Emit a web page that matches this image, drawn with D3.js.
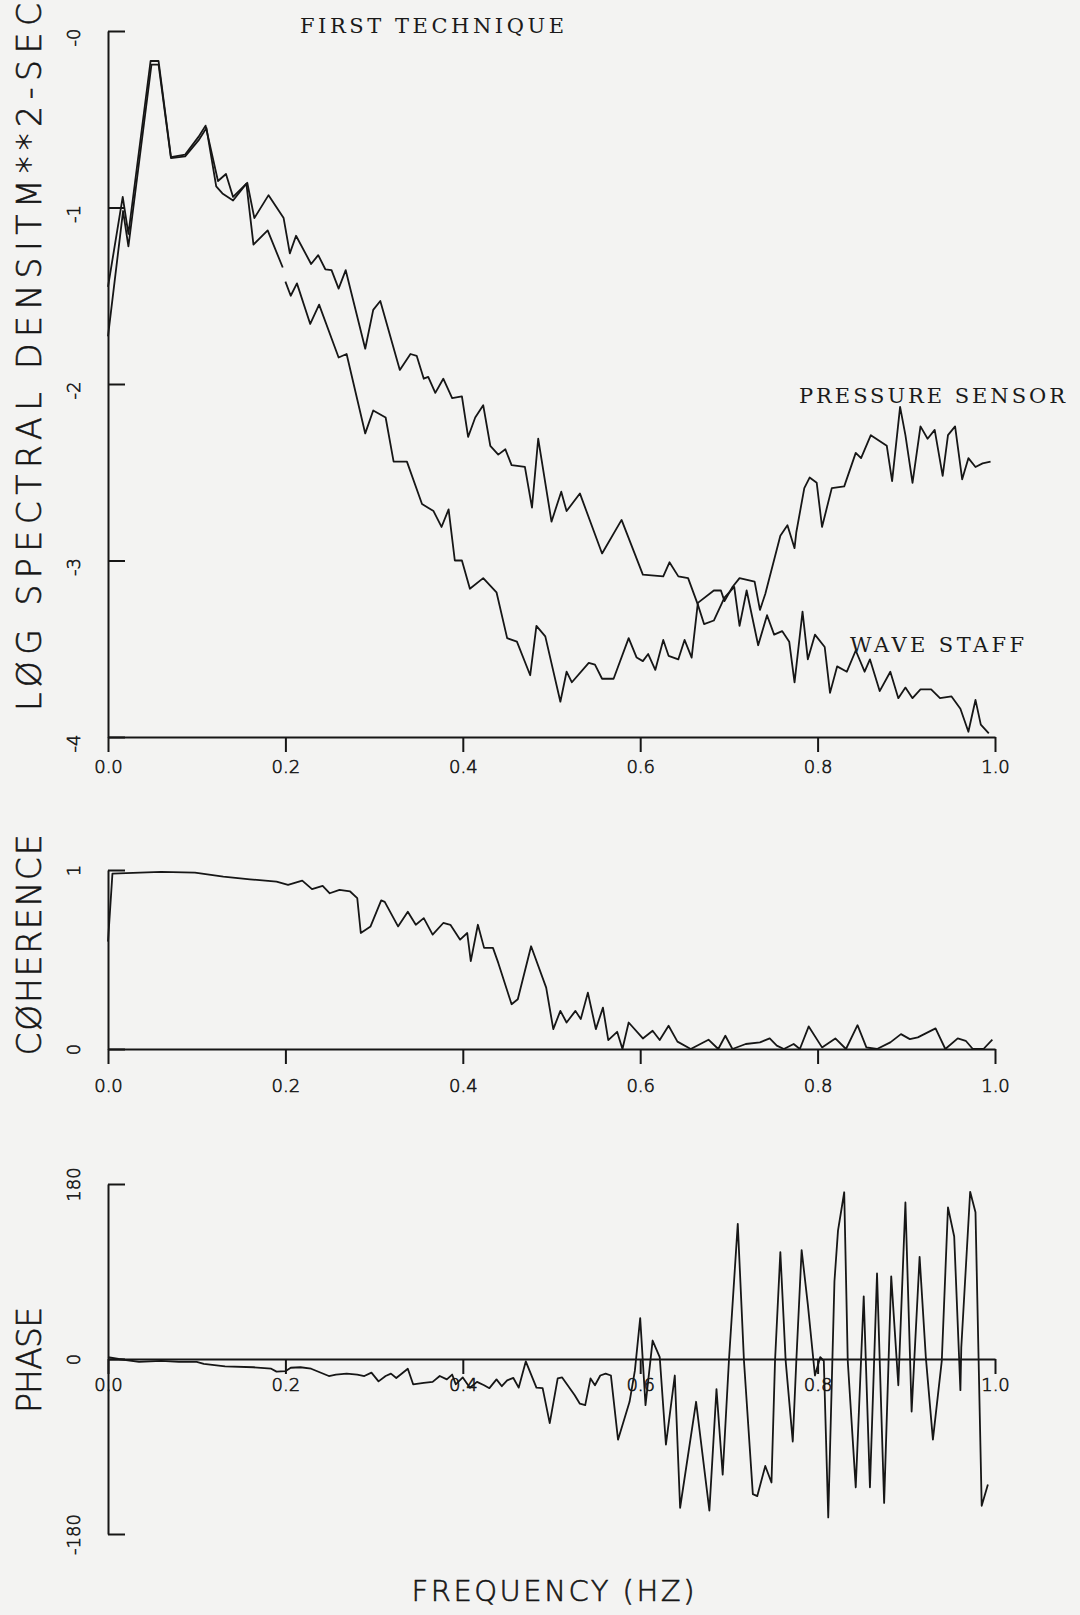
<!DOCTYPE html>
<html>
<head>
<meta charset="utf-8">
<script src="https://cdn.jsdelivr.net/npm/d3@7"></script>
<style>
  body { margin: 0; background: #f3f3f2; }
  svg { display: block; }
  .plotter { font-family: "DejaVu Sans", sans-serif; font-weight: 200; fill: #161616; stroke: #161616; stroke-width: 0.6; }
  .typed { font-family: "DejaVu Serif", serif; fill: #1a1a1a; }
  .axis path, .axis line { stroke: #161616; stroke-width: 2; }
  .curve { fill: none; stroke: #161616; stroke-width: 1.8; stroke-linejoin: round; }
</style>
</head>
<body>
<script>
//frequency ticks shared by the three panels
let freqTicks = [0, 0.2, 0.4, 0.6, 0.8, 1.0];
let freqTickLabels = ["0.0", "0.2", "0.4", "0.6", "0.8", "1.0"];
let logTicks = [0, -1, -2, -3, -4];
let logTickLabels = ["-0", "-1", "-2", "-3", "-4"];
let cohTicks = [1, 0];
let cohTickLabels = ["1", "0"];
let phaseTicks = [180, 0, -180];
let phaseTickLabels = ["180", "0", "-180"];

//[frequency Hz, log spectral density]; null = pen lift
let pressureSensor = [
  [0, -1.73], [0.017, -1.02], [0.023, -1.22], [0.049, -0.19], [0.057, -0.19], [0.071, -0.72],
  [0.087, -0.71], [0.102, -0.62], [0.111, -0.55], [0.122, -0.88], [0.129, -0.92], [0.141, -0.96],
  [0.156, -0.865], [0.164, -1.21], [0.180, -1.13], [0.197, -1.34], [0.1985, null], [0.200, -1.42],
  [0.206, -1.50], [0.213, -1.43], [0.228, -1.66], [0.238, -1.55], [0.260, -1.85], [0.269, -1.83],
  [0.290, -2.28], [0.299, -2.15], [0.313, -2.19], [0.322, -2.44], [0.337, -2.44], [0.354, -2.68],
  [0.367, -2.72], [0.376, -2.81], [0.384, -2.71], [0.391, -3.00], [0.399, -3.00], [0.408, -3.16],
  [0.423, -3.10], [0.438, -3.18], [0.450, -3.44], [0.461, -3.46], [0.476, -3.65], [0.483, -3.37],
  [0.493, -3.43], [0.510, -3.80], [0.517, -3.63], [0.523, -3.69], [0.542, -3.58], [0.549, -3.59],
  [0.557, -3.67], [0.570, -3.67], [0.587, -3.44], [0.596, -3.55], [0.603, -3.57], [0.609, -3.53],
  [0.617, -3.62], [0.626, -3.45], [0.632, -3.54], [0.643, -3.56], [0.650, -3.45], [0.658, -3.55],
  [0.665, -3.24], [0.683, -3.17], [0.691, -3.17], [0.695, -3.23], [0.704, -3.15], [0.712, -3.10],
  [0.729, -3.12], [0.735, -3.28], [0.741, -3.19], [0.758, -2.86], [0.766, -2.80], [0.774, -2.93],
  [0.776, -2.84], [0.785, -2.59], [0.791, -2.53], [0.799, -2.56], [0.805, -2.81], [0.816, -2.59],
  [0.830, -2.58], [0.843, -2.39], [0.849, -2.42], [0.860, -2.29], [0.878, -2.35], [0.884, -2.55],
  [0.893, -2.13], [0.899, -2.29], [0.907, -2.56], [0.916, -2.24], [0.924, -2.31], [0.932, -2.26],
  [0.941, -2.52], [0.947, -2.29], [0.955, -2.24], [0.963, -2.54], [0.970, -2.42], [0.978, -2.47],
  [0.986, -2.45], [0.995, -2.44]
];

let waveStaff = [
  [0, -1.45], [0.0166, -0.94], [0.023, -1.15], [0.048, -0.17], [0.057, -0.17], [0.071, -0.715],
  [0.087, -0.70], [0.102, -0.60], [0.110, -0.536], [0.124, -0.85], [0.133, -0.81], [0.141, -0.94],
  [0.157, -0.86], [0.165, -1.06], [0.181, -0.93], [0.198, -1.06], [0.205, -1.26], [0.212, -1.16],
  [0.229, -1.32], [0.237, -1.27], [0.245, -1.35], [0.252, -1.355], [0.260, -1.46], [0.268, -1.355],
  [0.290, -1.80], [0.299, -1.58], [0.307, -1.53], [0.329, -1.92], [0.341, -1.83], [0.348, -1.84],
  [0.356, -1.97], [0.361, -1.96], [0.369, -2.05], [0.378, -1.97], [0.388, -2.08], [0.399, -2.07],
  [0.406, -2.30], [0.414, -2.19], [0.423, -2.12], [0.431, -2.35], [0.440, -2.40], [0.448, -2.37],
  [0.455, -2.46], [0.470, -2.47], [0.478, -2.70], [0.485, -2.31], [0.500, -2.78], [0.511, -2.61],
  [0.517, -2.72], [0.532, -2.62], [0.557, -2.96], [0.579, -2.77], [0.603, -3.08], [0.626, -3.09],
  [0.633, -3.01], [0.643, -3.09], [0.654, -3.10], [0.665, -3.25], [0.672, -3.36], [0.683, -3.34],
  [0.695, -3.21], [0.706, -3.15], [0.712, -3.37], [0.720, -3.17], [0.733, -3.48], [0.743, -3.31],
  [0.751, -3.42], [0.760, -3.40], [0.768, -3.46], [0.774, -3.69], [0.783, -3.29], [0.789, -3.56],
  [0.797, -3.42], [0.808, -3.49], [0.814, -3.75], [0.822, -3.60], [0.833, -3.63], [0.843, -3.51],
  [0.853, -3.63], [0.859, -3.56], [0.870, -3.74], [0.882, -3.63], [0.891, -3.78], [0.899, -3.72],
  [0.907, -3.78], [0.916, -3.73], [0.928, -3.73], [0.938, -3.78], [0.951, -3.77], [0.961, -3.84],
  [0.970, -3.97], [0.978, -3.79], [0.984, -3.93], [0.993, -3.98]
];

//[frequency Hz, coherence]
let coherence = [
  [0, 0.60], [0.005, 0.98], [0.036, 0.985], [0.06, 0.99], [0.098, 0.985], [0.13, 0.963],
  [0.16, 0.948], [0.19, 0.935], [0.203, 0.917], [0.219, 0.941], [0.23, 0.893], [0.242, 0.911],
  [0.25, 0.87], [0.261, 0.889], [0.273, 0.88], [0.281, 0.843], [0.285, 0.648], [0.296, 0.685],
  [0.308, 0.83], [0.312, 0.822], [0.327, 0.685], [0.338, 0.767], [0.347, 0.694], [0.356, 0.731],
  [0.366, 0.639], [0.378, 0.704], [0.386, 0.694], [0.397, 0.611], [0.405, 0.648], [0.409, 0.491],
  [0.417, 0.694], [0.424, 0.565], [0.434, 0.565], [0.44, 0.481], [0.455, 0.25], [0.462, 0.278],
  [0.477, 0.574], [0.494, 0.343], [0.502, 0.111], [0.51, 0.213], [0.517, 0.148], [0.527, 0.213],
  [0.533, 0.167], [0.541, 0.315], [0.55, 0.111], [0.558, 0.231], [0.564, 0.05], [0.574, 0.096],
  [0.58, 0.0], [0.587, 0.148], [0.603, 0.059], [0.614, 0.102], [0.622, 0.05], [0.632, 0.13],
  [0.642, 0.041], [0.657, 0.0], [0.677, 0.052], [0.688, 0.0], [0.696, 0.074], [0.704, 0.0],
  [0.719, 0.028], [0.735, 0.037], [0.746, 0.059], [0.754, 0.019], [0.762, 0.0], [0.773, 0.028],
  [0.78, 0.0], [0.79, 0.126], [0.805, 0.009], [0.82, 0.059], [0.832, 0.0], [0.845, 0.133],
  [0.855, 0.009], [0.867, 0.0], [0.882, 0.037], [0.894, 0.083], [0.904, 0.055], [0.913, 0.065],
  [0.933, 0.115], [0.944, 0.0], [0.958, 0.059], [0.967, 0.046], [0.975, 0.0], [0.987, 0.0],
  [0.997, 0.052]
];

//[frequency Hz, phase deg]
let phase = [
  [0, 2], [0.012, 0], [0.035, -3], [0.06, -2], [0.08, -3], [0.1, -3], [0.108, -5], [0.132, -7.5],
  [0.164, -8.5], [0.184, -10], [0.19, -13], [0.2, -12.5], [0.206, -9], [0.217, -8.5], [0.229, -10],
  [0.249, -17.5], [0.257, -16], [0.269, -15], [0.281, -16], [0.289, -17.5], [0.297, -14],
  [0.305, -23], [0.313, -17.5], [0.319, -15], [0.325, -19.5], [0.338, -10], [0.344, -26],
  [0.356, -24.5], [0.366, -23.5], [0.374, -17.5], [0.382, -21], [0.388, -16], [0.392, -26],
  [0.4, -19], [0.408, -29.5], [0.416, -23.5], [0.424, -27], [0.43, -30], [0.438, -21], [0.444, -28],
  [0.45, -22], [0.457, -19.5], [0.463, -29.5], [0.471, -2.5], [0.483, -29.5], [0.49, -30],
  [0.498, -66], [0.507, -20], [0.512, -19], [0.526, -37], [0.532, -46], [0.538, -47.5],
  [0.544, -20], [0.549, -27], [0.555, -17], [0.561, -15], [0.567, -17], [0.575, -83], [0.588, -44],
  [0.594, -12], [0.600, 42], [0.606, -47.5], [0.614, 19], [0.622, 2], [0.629, -88], [0.639, -17],
  [0.645, -153], [0.663, -44], [0.678, -156], [0.686, -31], [0.693, -119], [0.700, -2], [0.710, 139],
  [0.717, -2], [0.727, -139], [0.732, -141], [0.741, -110], [0.748, -127], [0.752, -2], [0.758, 110],
  [0.764, -2], [0.772, -85], [0.776, -2], [0.782, 112], [0.789, 56], [0.797, -17], [0.803, 2],
  [0.807, -2], [0.812, -163], [0.819, 80], [0.823, 132], [0.830, 171.5], [0.834, -2], [0.843, -132],
  [0.852, 64.5], [0.859, -132], [0.867, 88], [0.875, -148], [0.883, 85], [0.891, -27], [0.899, 161],
  [0.906, -54], [0.915, 105], [0.922, 2], [0.930, -83], [0.940, -2], [0.947, 156], [0.954, 126],
  [0.961, -32], [0.962, 12], [0.972, 172], [0.978, 151], [0.985, -151], [0.992, -129]
];

//page size
let width = 1080;
let height = 1615;

const svg = d3.select("body").
  append("svg").
  attr("width", width).
  attr("height", height);

//shared frequency scale
let xScale = d3.scaleLinear().domain([0, 1]).range([108, 995]);

//panel scales
let yLog = d3.scaleLinear().domain([-4, 0]).range([737, 31]);
let yCoh = d3.scaleLinear().domain([0, 1]).range([1049, 870]);
let yPhase = d3.scaleLinear().domain([-180, 180]).range([1534, 1184]);

//draw x axis with labels set a given distance under the line
function drawXAxis(yPos, labelTop) {
  let xAxis = d3.axisBottom(xScale).
    tickValues(freqTicks).
    tickSizeInner(15).
    tickSizeOuter(0).
    tickFormat((d, i) => freqTickLabels[i]);
  let g = svg.append("g").
    attr("class", "axis").
    attr("transform", "translate(0," + yPos + ")").
    call(xAxis);
  g.selectAll("text").
    attr("class", "plotter").
    attr("y", labelTop).
    attr("dy", "0.73em").
    style("font-size", "18px");
}

//draw y axis, ticks pointing into the plot, labels rotated
function drawYAxis(scale, ticks, labels, anchor, shift) {
  let yAxis = d3.axisLeft(scale).
    tickValues(ticks).
    tickSizeInner(-17).
    tickSizeOuter(0).
    tickFormat((d, i) => labels[i]);
  let g = svg.append("g").
    attr("class", "axis").
    attr("transform", "translate(" + xScale(0) + ",0)").
    call(yAxis);
  g.selectAll("text").
    attr("class", "plotter").
    attr("x", null).
    attr("dy", null).
    attr("text-anchor", anchor).
    attr("transform", "translate(-28," + shift + ") rotate(-90)").
    style("font-size", "18px");
}

//top panel
drawYAxis(yLog, logTicks, logTickLabels, "end", -3);
drawXAxis(yLog(-4), 23);

//middle panel
drawYAxis(yCoh, cohTicks, cohTickLabels, "middle", 0);
drawXAxis(yCoh(0), 30);

//bottom panel, zero line carries the frequency ticks
drawYAxis(yPhase, phaseTicks, phaseTickLabels, "middle", 0);
drawXAxis(yPhase(0), 19);

//curves
function drawCurve(data, yScale) {
  let line = d3.line().
    defined(d => d[1] !== null).
    x(d => xScale(d[0])).
    y(d => yScale(d[1]));
  svg.append("path").
    datum(data).
    attr("class", "curve").
    attr("d", line);
}

drawCurve(pressureSensor, yLog);
drawCurve(waveStaff, yLog);
drawCurve(coherence, yCoh);
drawCurve(phase, yPhase);

//typed labels
svg.append("text").
  attr("class", "typed").
  attr("x", 300).
  attr("y", 33).
  attr("textLength", 264).
  attr("lengthAdjust", "spacing").
  style("font-size", "21px").
  text("FIRST TECHNIQUE");

svg.append("text").
  attr("class", "typed").
  attr("x", 799).
  attr("y", 403).
  attr("textLength", 266).
  attr("lengthAdjust", "spacing").
  style("font-size", "21px").
  text("PRESSURE SENSOR");

svg.append("text").
  attr("class", "typed").
  attr("x", 850).
  attr("y", 652).
  attr("textLength", 174).
  attr("lengthAdjust", "spacing").
  style("font-size", "21px").
  text("WAVE STAFF");

//plotter axis titles
function yTitle(label, yMid, len) {
  svg.append("text").
    attr("class", "plotter").
    attr("text-anchor", "middle").
    attr("transform", "translate(41," + yMid + ") rotate(-90)").
    attr("textLength", len).
    attr("lengthAdjust", "spacing").
    style("font-size", "33px").
    text(label);
}

yTitle("LØG SPECTRAL DENSITM**2-SEC", 357, 708);
yTitle("CØHERENCE", 945, 221);
yTitle("PHASE", 1360, 106);

svg.append("text").
  attr("class", "plotter").
  attr("text-anchor", "middle").
  attr("x", 553).
  attr("y", 1601).
  attr("textLength", 283).
  attr("lengthAdjust", "spacing").
  style("font-size", "29px").
  text("FREQUENCY (HZ)");
</script>
</body>
</html>
